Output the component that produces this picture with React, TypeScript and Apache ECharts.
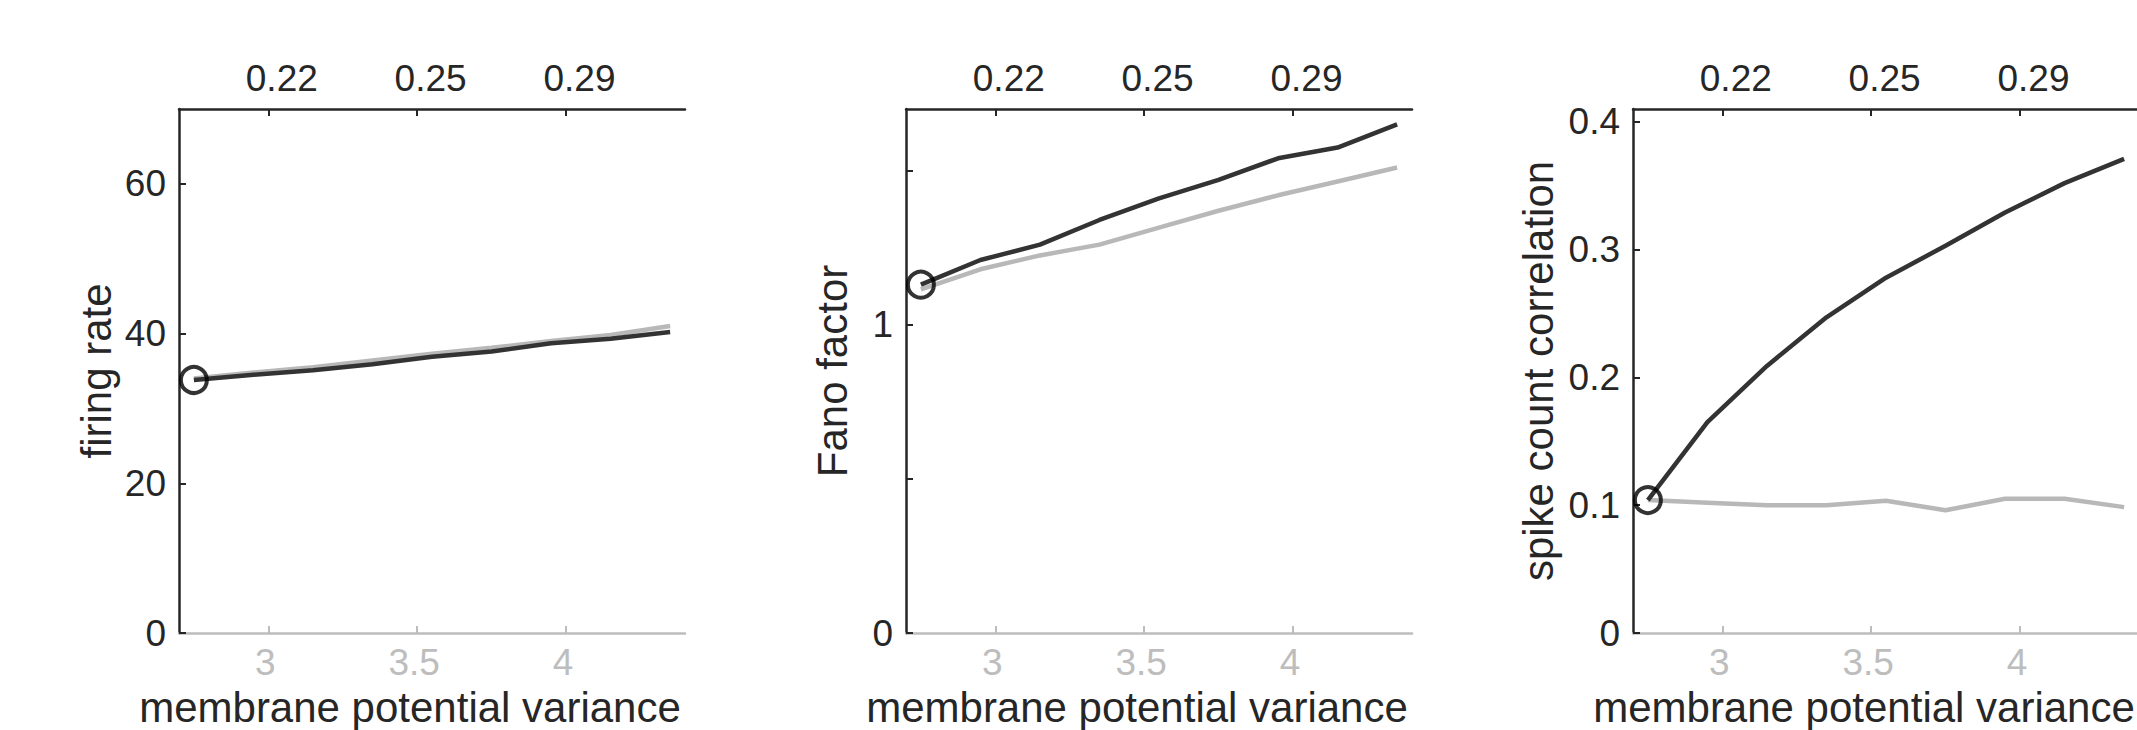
import React, { useEffect, useRef } from "react";
import * as echarts from "echarts";

// ---- data ----
const xValues = [2.75, 2.95, 3.15, 3.35, 3.55, 3.75, 3.95, 4.15, 4.35];

const rateDark = [33.8, 34.5, 35.1, 35.9, 36.9, 37.6, 38.7, 39.3, 40.2];
const rateGray = [34.0, 34.8, 35.5, 36.4, 37.3, 38.1, 39.0, 39.8, 41.0];

const fanoDark = [1.13, 1.21, 1.26, 1.34, 1.41, 1.47, 1.54, 1.575, 1.65];
const fanoGray = [1.115, 1.18, 1.225, 1.26, 1.315, 1.37, 1.42, 1.465, 1.51];

const corrDark = [0.104, 0.165, 0.209, 0.247, 0.278, 0.303, 0.329, 0.352, 0.371];
const corrGray = [0.104, 0.102, 0.1, 0.1, 0.1035, 0.096, 0.105, 0.105, 0.0985];

const xMin = 2.7;
const xMax = 4.4;
const bottomTicks = [3, 3.5, 4];
const topTickLabels = ["0.22", "0.25", "0.29"];

const rateTicks = [0, 20, 40, 60];
const rateLabels = [0, 20, 40, 60];
const fanoTicks = [0, 0.5, 1, 1.5];
const fanoLabels = [0, 1];
const corrTicks = [0, 0.1, 0.2, 0.3, 0.4];
const corrLabels = [0, 0.1, 0.2, 0.3, 0.4];

const xTitle = "membrane potential variance";

const panels = [
  { yName: "firing rate", yMax: 70, yTicks: rateTicks, yLabels: rateLabels, dark: rateDark, gray: rateGray, left: 179, nameGap: 62 },
  { yName: "Fano factor", yMax: 1.7, yTicks: fanoTicks, yLabels: fanoLabels, dark: fanoDark, gray: fanoGray, left: 906, nameGap: 53 },
  { yName: "spike count correlation", yMax: 0.41, yTicks: corrTicks, yLabels: corrLabels, dark: corrDark, gray: corrGray, left: 1633, nameGap: 74 },
];

const FONT = "'Liberation Sans', Arial, Helvetica, sans-serif";
const TEXT = "#262626";
const LIGHT = "#bdbdbd";
const DARKLINE = "#333333";
const GRAYLINE = "#b8b8b8";

export default function App() {
  const ref = useRef<HTMLDivElement>(null);

  useEffect(() => {
    document.body.style.margin = "0";
    const chart = echarts.init(ref.current!, null, { renderer: "svg" });

    const grid: any[] = [];
    const xAxis: any[] = [];
    const yAxis: any[] = [];
    const series: any[] = [];

    panels.forEach((p, i) => {
      grid.push({ left: p.left, top: 109, width: 506, height: 524, containLabel: false, outerBoundsMode: "none" });

      xAxis.push({
        type: "value",
        gridIndex: i,
        position: "bottom",
        min: xMin,
        max: xMax,
        name: xTitle,
        nameLocation: "middle",
        nameGap: 53,
        nameTextStyle: { fontFamily: FONT, fontSize: 42, color: TEXT, padding: [0, 44, 0, 0] },
        axisLine: { show: true, onZero: false, lineStyle: { color: LIGHT, width: 2.5 } },
        axisTick: { show: true, inside: true, length: 7, lineStyle: { color: LIGHT, width: 2 }, customValues: bottomTicks },
        axisLabel: { show: true, margin: 11, fontFamily: FONT, fontSize: 37, color: LIGHT, padding: [0, 6, 0, 0], customValues: bottomTicks },
        splitLine: { show: false },
      });

      xAxis.push({
        type: "value",
        gridIndex: i,
        position: "top",
        min: xMin,
        max: xMax,
        axisLine: { show: true, onZero: false, lineStyle: { color: TEXT, width: 2.5 } },
        axisTick: { show: true, inside: true, length: 7, lineStyle: { color: TEXT, width: 2 }, customValues: bottomTicks },
        axisLabel: {
          show: true,
          margin: 12,
          fontFamily: FONT,
          fontSize: 37,
          color: TEXT,
          padding: [0, 0, 0, 27],
          customValues: bottomTicks,
          formatter: (v: number) => {
            const k = bottomTicks.findIndex((t) => Math.abs(t - v) < 1e-9);
            return k >= 0 ? topTickLabels[k] : "";
          },
        },
        splitLine: { show: false },
      });

      yAxis.push({
        type: "value",
        gridIndex: i,
        min: 0,
        max: p.yMax,
        name: p.yName,
        nameLocation: "middle",
        nameGap: p.nameGap,
        nameTextStyle: { fontFamily: FONT, fontSize: 42, color: TEXT },
        axisLine: { show: true, onZero: false, lineStyle: { color: TEXT, width: 2.5 } },
        axisTick: { show: true, inside: true, length: 7, lineStyle: { color: TEXT, width: 2 }, customValues: p.yTicks },
        axisLabel: { show: true, margin: 13, fontFamily: FONT, fontSize: 37, color: TEXT, customValues: p.yLabels },
        splitLine: { show: false },
      });

      series.push({
        type: "line",
        xAxisIndex: i * 2,
        yAxisIndex: i,
        data: xValues.map((x, k) => [x, p.gray[k]]),
        showSymbol: false,
        symbol: "none",
        lineStyle: { color: GRAYLINE, width: 4.5 },
        z: 2,
      });
      series.push({
        type: "line",
        xAxisIndex: i * 2,
        yAxisIndex: i,
        data: xValues.map((x, k) => [x, p.dark[k]]),
        showSymbol: false,
        symbol: "none",
        lineStyle: { color: DARKLINE, width: 4.5 },
        z: 3,
      });
      series.push({
        type: "scatter",
        xAxisIndex: i * 2,
        yAxisIndex: i,
        data: [[xValues[0], p.dark[0]]],
        symbol: "circle",
        symbolSize: 26,
        clip: false,
        itemStyle: { color: "rgba(0,0,0,0)", borderColor: "#000000", borderWidth: 4 },
        z: 4,
      });
    });

    chart.setOption({
      animation: false,
      backgroundColor: "#ffffff",
      grid,
      xAxis,
      yAxis,
      series,
    });

    return () => chart.dispose();
  }, []);

  return <div ref={ref} style={{ width: 2137, height: 730 }} />;
}
